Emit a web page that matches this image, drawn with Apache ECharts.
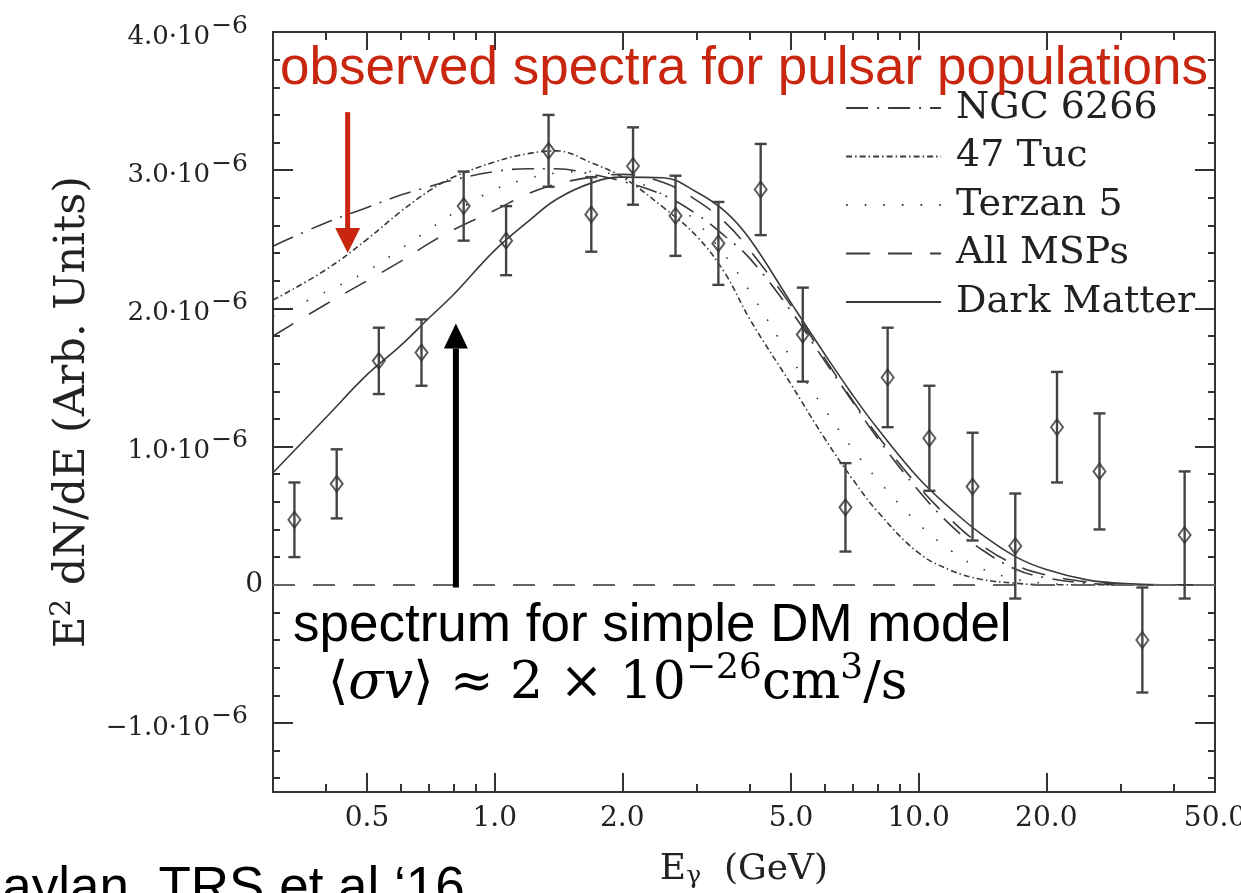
<!DOCTYPE html>
<html>
<head>
<meta charset="utf-8">
<script src="https://cdn.jsdelivr.net/npm/echarts@6/dist/echarts.min.js"></script>
<style>
  html, body { margin: 0; padding: 0; background: #fff; }
  #chart { width: 1241px; height: 893px; }
</style>
</head>
<body>
<div id="chart"></div>
<script>
// Photon energy bins (GeV) and measured E^2 dN/dE, in units of 1e-6
const binEnergy = [0.337, 0.424, 0.533, 0.672, 0.845, 1.064, 1.34, 1.69, 2.12, 2.67, 3.37,
                   4.24, 5.33, 6.72, 8.45, 10.6, 13.4, 16.9, 21.2, 26.7, 33.7, 42.4];
const binFlux   = [0.47, 0.73, 1.62, 1.68, 2.74, 2.49, 3.14, 2.68, 3.03, 2.67, 2.47,
                   2.86, 1.81, 0.56, 1.50, 1.06, 0.71, 0.28, 1.14, 0.82, -0.40, 0.36];
const binError  = [0.27, 0.25, 0.24, 0.24, 0.25, 0.25, 0.26, 0.27, 0.28, 0.29, 0.30,
                   0.33, 0.34, 0.32, 0.36, 0.38, 0.39, 0.38, 0.40, 0.42, 0.38, 0.46];

// Model spectra sampled on a common energy grid (GeV), units of 1e-6
const modelEnergy = [0.3, 0.4, 0.5, 0.6, 0.7, 0.8, 1.0, 1.2, 1.4, 1.7, 2.0, 2.5, 3.0, 3.5, 4.0,
                     5.0, 6.0, 7.0, 8.0, 10, 12, 14, 17, 20, 25, 30, 35, 40, 50];
const ngc6266    = [2.45, 2.62, 2.73, 2.82, 2.88, 2.93, 2.99, 3.01, 3.01, 2.97, 2.92, 2.82, 2.68, 2.52, 2.36,
                    1.98, 1.62, 1.32, 1.06, 0.68, 0.42, 0.26, 0.11, 0.05, 0.01, 0, 0, 0, 0];
const tuc47      = [2.06, 2.28, 2.50, 2.70, 2.85, 2.95, 3.06, 3.12, 3.14, 3.05, 2.95, 2.73, 2.52, 2.25, 1.92,
                    1.45, 1.06, 0.76, 0.53, 0.23, 0.10, 0.04, 0.01, 0, 0, 0, 0, 0, 0];
const terzan5    = [1.94, 2.12, 2.27, 2.43, 2.57, 2.69, 2.86, 2.94, 2.98, 2.99, 2.95, 2.82, 2.62, 2.38, 2.12,
                    1.64, 1.27, 0.98, 0.76, 0.44, 0.24, 0.12, 0.04, 0.01, 0, 0, 0, 0, 0];
const allMSPs    = [1.80, 2.03, 2.20, 2.34, 2.47, 2.57, 2.71, 2.83, 2.90, 2.95, 2.97, 2.91, 2.78, 2.62, 2.42,
                    2.02, 1.64, 1.33, 1.08, 0.71, 0.46, 0.29, 0.14, 0.07, 0.02, 0.005, 0, 0, 0];
const darkMatter = [0.81, 1.21, 1.52, 1.73, 1.93, 2.10, 2.42, 2.63, 2.79, 2.91, 2.95, 2.945, 2.84, 2.70, 2.50,
                    2.04, 1.67, 1.37, 1.13, 0.77, 0.54, 0.37, 0.20, 0.11, 0.035, 0.01, 0.002, 0, 0];

const seriesNames = ['NGC 6266', '47 Tuc', 'Terzan 5', 'All MSPs', 'Dark Matter'];

// Axis ticks
const xMajorTicks = [0.5, 1, 2, 5, 10, 20, 50];
const xMinorTicks = [0.4, 0.6, 0.7, 0.8, 0.9, 3, 4, 6, 7, 8, 9, 30, 40];
const yMajorTicks = [-1, 0, 1, 2, 3, 4];
const yMinorTicks = [-1.4, -1.2, -0.8, -0.6, -0.4, -0.2, 0.2, 0.4, 0.6, 0.8, 1.2, 1.4, 1.6, 1.8,
                     2.2, 2.4, 2.6, 2.8, 3.2, 3.4, 3.6, 3.8];

// Annotation arrows, anchored in data space: [energy, from, to]
const redArrow = [0.45, 3.42, 2.40];
const blackArrow = [0.81, -0.02, 1.89];

const INK = '#333';
const SERIF = '"DejaVu Serif", serif';
const SANS = '"Liberation Sans", Arial, sans-serif';

const zip = (xs, ys) => xs.map((x, i) => [x, ys[i]]);

function xAxisDef(position, ticks, len, withLabel, withLine) {
  return {
    type: 'log', logBase: 10, min: 0.3, max: 50, position: position,
    axisLine: { show: withLine, onZero: false, lineStyle: { color: INK, width: 2 } },
    axisTick: { show: true, inside: true, length: len, customValues: ticks,
                lineStyle: { color: INK, width: 2 } },
    axisLabel: withLabel ? {
      show: true, customValues: ticks, margin: 13,
      fontFamily: SERIF, fontSize: 28, color: '#222',
      formatter: v => Number(v).toFixed(1)
    } : { show: false },
    splitLine: { show: false }, minorTick: { show: false }
  };
}

function yAxisDef(position, ticks, len, withLabel, withLine) {
  return {
    type: 'value', min: -1.5, max: 4.0, position: position,
    axisLine: { show: withLine, onZero: false, lineStyle: { color: INK, width: 2 } },
    axisTick: { show: true, inside: true, length: len, customValues: ticks,
                lineStyle: { color: INK, width: 2 } },
    axisLabel: withLabel ? {
      show: true, customValues: ticks, margin: 10,
      formatter: v => (Math.abs(v) < 1e-9 ? '{z|0}' : '{b|' + Number(v).toFixed(1).replace('-', '\u2212') + '\u00b710}{s|\u22126}'),
      rich: {
        b: { fontFamily: SERIF, fontSize: 26, color: '#222', padding: [10, 0, 0, 0] },
        s: { fontFamily: SERIF, fontSize: 25, color: '#222', padding: [0, 15, 12, 1] },
        z: { fontFamily: SERIF, fontSize: 28, color: '#222' }
      }
    } : { show: false },
    splitLine: { show: false }
  };
}

const chart = echarts.init(document.getElementById('chart'), null, { renderer: 'canvas' });

const lineSeries = (name, data, dash) => ({
  name: name, type: 'line', data: zip(modelEnergy, data),
  xAxisIndex: 0, yAxisIndex: 0,
  symbol: 'none', smooth: 0.4, z: 3,
  lineStyle: { color: '#3a3a3a', width: 1.6, type: dash },
  itemStyle: { color: '#3a3a3a' },
  emphasis: { disabled: true }
});

const option = {
  animation: false,
  backgroundColor: '#fff',
  grid: { left: 273, top: 32, width: 942, height: 760, containLabel: false, outerBoundsMode: 'none' },
  xAxis: [
    Object.assign(xAxisDef('bottom', xMajorTicks, 19, true, true), {
      name: '{e|E}{g|\u03b3}{e|  (GeV)}', nameLocation: 'middle', nameGap: 58,
      nameTextStyle: { rich: {
        e: { fontFamily: SERIF, fontSize: 36, color: '#222' },
        g: { fontFamily: SERIF, fontSize: 25, color: '#222', padding: [14, 0, 0, 0] }
      } }
    }),
    xAxisDef('bottom', xMinorTicks, 8, false, false),
    xAxisDef('top', xMajorTicks, 18, false, true),
    xAxisDef('top', xMinorTicks, 8, false, false)
  ],
  yAxis: [
    Object.assign(yAxisDef('left', yMajorTicks, 20, true, true), {
      name: '{e|E}{s|2}{e| dN/dE (Arb. Units)}', nameLocation: 'middle', nameGap: 176, nameRotate: 90,
      nameTextStyle: { rich: {
        e: { fontFamily: SERIF, fontSize: 43, color: '#222' },
        s: { fontFamily: SERIF, fontSize: 28, color: '#222', padding: [0, 0, 20, 0] }
      } }
    }),
    yAxisDef('left', yMinorTicks, 7, false, false),
    yAxisDef('right', yMajorTicks, 20, false, true),
    yAxisDef('right', yMinorTicks, 7, false, false)
  ],
  legend: {
    orient: 'vertical', left: 840, top: 84,
    itemWidth: 95, itemHeight: 14, itemGap: 10.5,
    data: seriesNames,
    selectedMode: false,
    itemStyle: { opacity: 0 },
    lineStyle: { width: 2.2 },
    textStyle: { fontFamily: SERIF, fontSize: 38, color: '#222', lineHeight: 38, padding: [0, 0, 0, 10] }
  },
  series: [
    lineSeries('NGC 6266', ngc6266, [22, 9, 2, 9]),
    lineSeries('47 Tuc', tuc47, [6, 3, 1.5, 3]),
    lineSeries('Terzan 5', terzan5, [1.6, 17]),
    lineSeries('All MSPs', allMSPs, [24, 18]),
    Object.assign(lineSeries('Dark Matter', darkMatter, 'solid'), { z: 4,
      markLine: {
        silent: true, symbol: 'none', label: { show: false },
        lineStyle: { color: '#666', width: 2, type: [22, 18] },
        data: [{ yAxis: 0 }]
      }
    }),
    {
      name: 'errors', type: 'custom', xAxisIndex: 0, yAxisIndex: 0, z: 5,
      data: binEnergy.map((e, i) => [e, binFlux[i] - binError[i], binFlux[i] + binError[i]]),
      renderItem: function (params, api) {
        const lo = api.coord([api.value(0), api.value(1)]);
        const hi = api.coord([api.value(0), api.value(2)]);
        const cap = 6;
        const st = { stroke: '#444', lineWidth: 2.4 };
        return { type: 'group', children: [
          { type: 'line', shape: { x1: lo[0], y1: lo[1], x2: hi[0], y2: hi[1] }, style: st },
          { type: 'line', shape: { x1: lo[0] - cap, y1: lo[1], x2: lo[0] + cap, y2: lo[1] }, style: st },
          { type: 'line', shape: { x1: hi[0] - cap, y1: hi[1], x2: hi[0] + cap, y2: hi[1] }, style: st }
        ] };
      }
    },
    {
      name: 'points', type: 'scatter', xAxisIndex: 0, yAxisIndex: 0, z: 6,
      data: zip(binEnergy, binFlux),
      symbol: 'diamond', symbolSize: [12, 16],
      itemStyle: { color: 'rgba(255,255,255,0)', borderColor: '#333', borderWidth: 2 },
      emphasis: { disabled: true }
    }
  ],
  graphic: [
    {
      type: 'text', left: 280, top: 43, z: 20,
      style: { text: 'observed spectra for pulsar populations', font: '53px ' + SANS, fill: '#c8260e' }
    },
    {
      type: 'text', left: 293, top: 600, z: 20,
      style: { text: 'spectrum for simple DM model', font: '53px ' + SANS, fill: '#000' }
    },
    {
      type: 'text', left: 328, top: 651, z: 20,
      style: {
        text: '{n|\u27e8}{i|\u03c3v}{n|\u27e9 \u2248 2 \u00d7 10}{p|\u221226}{n|cm}{q|3}{n|/s}',
        rich: {
          n: { font: '52px "DejaVu Serif", serif', fill: '#000' },
          i: { font: 'italic 52px "DejaVu Serif", serif', fill: '#000' },
          p: { font: '36px "DejaVu Serif", serif', fill: '#000', padding: [0, 0, 30, 0] },
          q: { font: '36px "DejaVu Serif", serif', fill: '#000', padding: [0, 0, 30, 0] }
        }
      }
    },
    {
      type: 'text', left: -36, top: 863, z: 20,
      style: { text: 'Daylan, TRS et al \u201816', font: '53px ' + SANS, fill: '#000' }
    }
  ]
};

chart.setOption(option);

// Arrows drawn in data space through the chart's own coordinate conversion
function arrowGraphic(id, spec, color, shaftW, headW, headL) {
  const a = chart.convertToPixel({ xAxisIndex: 0, yAxisIndex: 0 }, [spec[0], spec[1]]);
  const b = chart.convertToPixel({ xAxisIndex: 0, yAxisIndex: 0 }, [spec[0], spec[2]]);
  const dir = b[1] > a[1] ? 1 : -1;
  const baseY = b[1] - dir * headL;
  return [
    { id: id + '-shaft', type: 'line', z: 20,
      shape: { x1: a[0], y1: a[1], x2: a[0], y2: baseY }, style: { stroke: color, lineWidth: shaftW } },
    { id: id + '-head', type: 'polygon', z: 20,
      shape: { points: [[b[0] - headW / 2, baseY], [b[0] + headW / 2, baseY], [b[0], b[1]]] },
      style: { fill: color } }
  ];
}

chart.setOption({
  graphic: option.graphic.concat(
    arrowGraphic('red', redArrow, '#c8260e', 5, 25, 25),
    arrowGraphic('black', blackArrow, '#000', 6, 24, 25)
  )
});
</script>
</body>
</html>
